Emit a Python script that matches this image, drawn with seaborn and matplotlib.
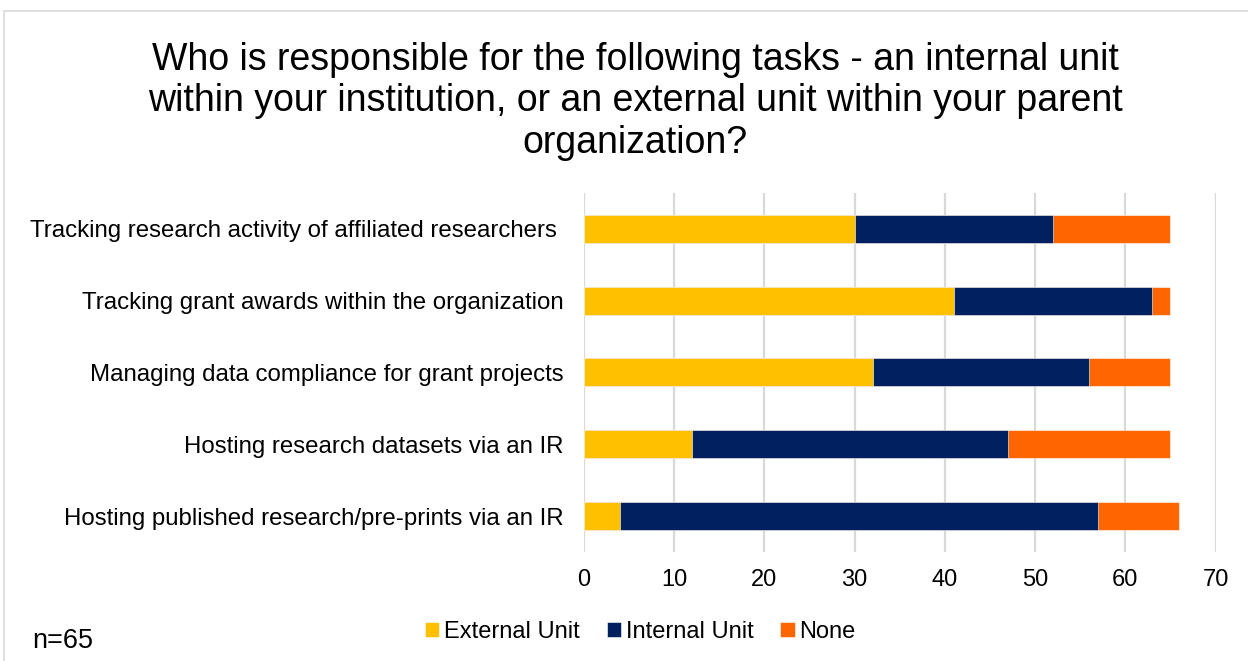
import matplotlib
matplotlib.use("Agg")
import matplotlib.pyplot as plt
from matplotlib.patches import Rectangle
import seaborn as sns
import pandas as pd

# Survey responses per task (n=65)
tasks = [
    "Tracking research activity of affiliated researchers ",
    "Tracking grant awards within the organization",
    "Managing data compliance for grant projects",
    "Hosting research datasets via an IR",
    "Hosting published research/pre-prints via an IR",
]
external_unit = [30, 41, 32, 12, 4]
internal_unit = [22, 22, 24, 35, 53]
none_unit = [13, 2, 9, 18, 9]

series_names = ["External Unit", "Internal Unit", "None"]
series_colors = ["#FFC000", "#002060", "#FF6600"]
x_ticks = [0, 10, 20, 30, 40, 50, 60, 70]

sns.set_theme(style="white")
plt.rcParams["font.family"] = ["Liberation Sans", "DejaVu Sans"]
plt.rcParams["text.color"] = "black"

df = pd.DataFrame({
    "task": tasks,
    "External Unit": external_unit,
    "Internal Unit": internal_unit,
    "None": none_unit,
})
# cumulative ends for the stacked segments
cum = df[series_names].cumsum(axis=1)

fig = plt.figure(figsize=(12.48, 6.61), dpi=100)
ax = fig.add_axes([0.468, 0.165, 0.506, 0.543])

# draw from the outermost segment inwards so each layer covers the previous
for name, color in reversed(list(zip(series_names, series_colors))):
    sns.barplot(x=cum[name], y=df["task"], orient="h", color=color,
                width=0.39, saturation=1, ax=ax, label=name, legend=False,
                edgecolor="white", linewidth=0.4, zorder=3)
if ax.get_legend() is not None:
    ax.get_legend().remove()

ax.set_xlim(0, 70)
ax.set_xticks(x_ticks)
ax.set_xlabel("")
ax.set_ylabel("")
ax.grid(axis="x", color="#D9D9D9", linewidth=1.6, zorder=0)
ax.grid(axis="y", visible=False)
for s in ax.spines.values():
    s.set_visible(False)
ax.tick_params(axis="x", length=0, pad=12, labelsize=17, labelcolor="black")
ax.tick_params(axis="y", length=0, pad=15, labelsize=17.25, labelcolor="black")

# legend in the usual series order
handles, labels = ax.get_legend_handles_labels()
order = [labels.index(n) for n in series_names]
fig.legend([handles[i] for i in order], series_names, loc="center",
           bbox_to_anchor=(0.513, 0.044), ncol=3, frameon=False,
           fontsize=17, handlelength=0.6, handleheight=0.6,
           handletextpad=0.2, columnspacing=1.15)

fig.text(0.509, 0.847,
         "Who is responsible for the following tasks - an internal unit\n"
         "within your institution, or an external unit within your parent\n"
         "organization?",
         ha="center", va="center", fontsize=27, linespacing=1.2)

fig.text(0.026, 0.030, "n=65", ha="left", va="center", fontsize=19.5)

# outer chart frame
fig.patches.append(Rectangle((4 / 1248, -0.1), 1.2, 1 - 11 / 661 + 0.1,
                             transform=fig.transFigure, fill=False,
                             edgecolor="#D9D9D9", linewidth=1.2))

fig.savefig("out.png", dpi=100)
